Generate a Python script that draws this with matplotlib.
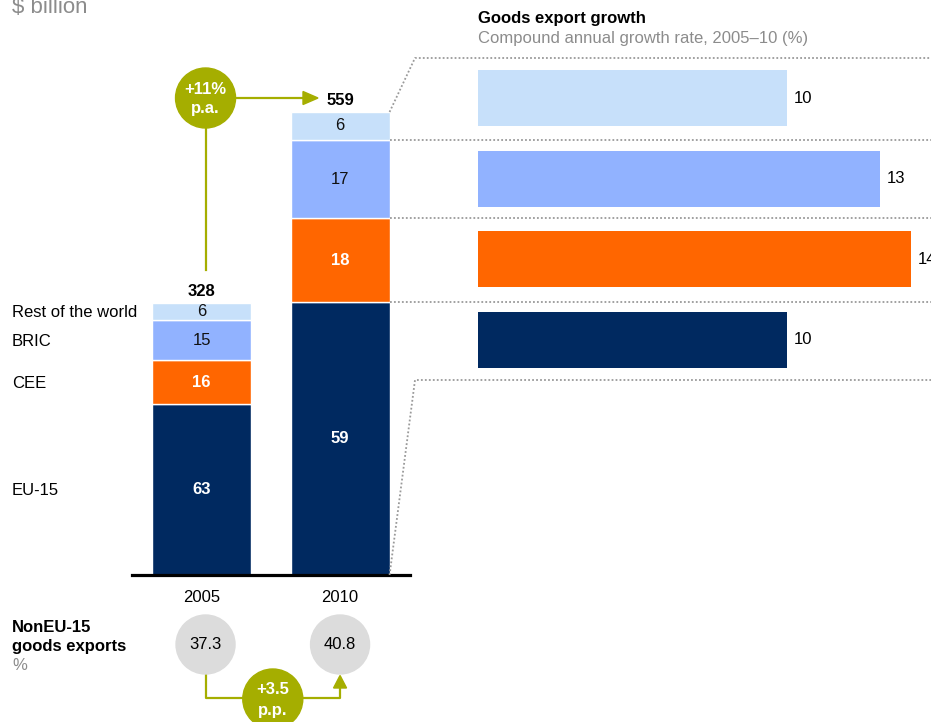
import numpy as np
import matplotlib
matplotlib.use("Agg")
import matplotlib.pyplot as plt
from matplotlib.patches import Circle, Polygon

plt.rcParams["font.family"] = ["Liberation Sans", "DejaVu Sans"]

# ---- data -------------------------------------------------------------
years = ["2005", "2010"]
totals = [328, 559]                       # $ billion
share_eu15 = [63, 59]                     # % of total
share_cee = [16, 18]
share_bric = [15, 17]
share_row = [6, 6]
segment_names = ["EU-15", "CEE", "BRIC", "Rest of the world"]

growth_names = ["Rest of the world", "BRIC", "CEE", "EU-15"]   # top to bottom
growth_cagr = [10, 13, 14, 10]            # CAGR 2005-10, %

non_eu_share = [37.3, 40.8]               # non EU-15 share of goods exports, %
total_cagr_label = "+11%"

# ---- style --------------------------------------------------------------
NAVY = "#002960"
ORANGE = "#FF6600"
PERI = "#91B2FF"
LIGHT = "#C7E0FA"
GREEN = "#A5AE00"
GREY_TXT = "#8C8C8C"
DOT = "#9A9A9A"
DOTSTYLE = (0, (1, 1.2))

W, H = 931, 722
fig = plt.figure(figsize=(W / 100, H / 100), dpi=100)

# ---- stacked bars ---------------------------------------------------------
px_per_unit = 463 / 559
ax = fig.add_axes([132 / W, 1 - 575 / H, 278 / W, 525 / H])
ax.set_xlim(-0.502, 1.505)
ax.set_ylim(0, 525 / px_per_unit)
x = np.arange(len(years))
bar_w = 0.715

seg_shares = [share_eu15, share_cee, share_bric, share_row]
seg_colors = [NAVY, ORANGE, PERI, LIGHT]
seg_txt = [("white", "bold"), ("white", "bold"), ("#111111", "normal"), ("#111111", "normal")]

bottom = np.zeros(len(years))
seg_centers = []
seg_tops = []
for vals, col, (tc, tw) in zip(seg_shares, seg_colors, seg_txt):
    h = np.array(totals) * np.array(vals) / 100.0
    ax.bar(x, h, width=bar_w, bottom=bottom, color=col, edgecolor="white", linewidth=1.0)
    for i in range(len(years)):
        ax.text(x[i], bottom[i] + h[i] / 2, str(vals[i]), ha="center", va="center",
                color=tc, fontsize=12, fontweight=tw)
    seg_centers.append(bottom + h / 2)
    bottom = bottom + h
    seg_tops.append(bottom.copy())

for i in range(len(years)):
    ax.annotate(str(totals[i]), (x[i], totals[i]), xytext=(0, 5), textcoords="offset points",
                ha="center", va="baseline", fontsize=12, fontweight="bold")

ax.set_xticks(x, years)
ax.tick_params(axis="x", length=0, pad=11, labelsize=12)
ax.set_yticks([])
for s in ["top", "left", "right"]:
    ax.spines[s].set_visible(False)
ax.spines["bottom"].set_linewidth(2.3)
ax.spines["bottom"].set_color("black")
ax.patch.set_visible(False)

# ---- growth bars ------------------------------------------------------------
g_left, g_top, g_bot = 477.7, 58, 380
gax = fig.add_axes([g_left / W, 1 - g_bot / H, (W - g_left) / W, (g_bot - g_top) / H])
gax.set_xlim(0, (W - g_left) / 30.95)
gax.set_ylim(len(growth_names) - 0.5, -0.5)
g_colors = [LIGHT, PERI, ORANGE, NAVY]
gy = np.arange(len(growth_names))
gax.barh(gy, growth_cagr, height=0.70, color=g_colors)
for yi, v in zip(gy, growth_cagr):
    gax.annotate(str(v), (v, yi), xytext=(5, 0), textcoords="offset points",
                 ha="left", va="center", fontsize=12, annotation_clip=False)
gax.axis("off")

# ---- overlay in pixel coordinates ---------------------------------------------
ov = fig.add_axes([0, 0, 1, 1])
ov.set_xlim(0, W)
ov.set_ylim(H, 0)
ov.axis("off")


def to_px(xd, yd):
    dx, dy = ax.transData.transform((xd, yd))
    return dx, H - dy


# titles
ov.text(12, 13, "$ billion", fontsize=16, color=GREY_TXT, va="baseline", ha="left")
ov.text(g_left, 18, "Goods export growth", fontsize=12, fontweight="bold", va="center", ha="left")
ov.text(g_left, 38, "Compound annual growth rate, 2005\u201310 (%)", fontsize=12,
        color=GREY_TXT, va="center", ha="left")

# category labels next to the 2005 bar
for name, c in zip(segment_names, seg_centers):
    _, py = to_px(0, c[0])
    ov.text(12, py + 1.5, name, fontsize=12, va="center", ha="left")

# dotted connectors from the 2010 bar to the growth panel
right_edge = x[1] + bar_w / 2
bx, by_top = to_px(right_edge, totals[1])
_, by_bot = to_px(right_edge, 0)
kx = 415
ov.plot([bx, kx, W], [by_top, g_top, g_top], color=DOT, lw=1.3, ls=DOTSTYLE)
ov.plot([bx, kx, W], [by_bot, g_bot, g_bot], color=DOT, lw=1.3, ls=DOTSTYLE)
for tops in seg_tops[:-1]:
    _, py = to_px(right_edge, tops[1])
    ov.plot([bx, W], [py, py], color=DOT, lw=1.3, ls=DOTSTYLE)

# total growth bubble
cx0, _ = to_px(x[0], 0)
cx1, _ = to_px(x[1], 0)
gcx, gcy, r = cx0 + 4, 98, 30
_, y328 = to_px(x[0], totals[0])
ov.plot([gcx, gcx], [gcy, y328 - 33], color=GREEN, lw=1.6)
ov.plot([gcx, 305], [gcy, gcy], color=GREEN, lw=1.6)
ov.add_patch(Polygon([(303, gcy - 6.5), (318, gcy), (303, gcy + 6.5)], closed=True, color=GREEN))
ov.add_patch(Circle((gcx, gcy), r, color=GREEN, zorder=3))
ov.text(gcx, gcy - 9, total_cagr_label, color="white", fontsize=12, fontweight="bold",
        ha="center", va="center", zorder=4)
ov.text(gcx, gcy + 11, "p.a.", color="white", fontsize=12, fontweight="bold",
        ha="center", va="center", zorder=4)

# non EU-15 share bubbles
ov.text(12, 627, "NonEU-15", fontsize=12, fontweight="bold", va="center", ha="left")
ov.text(12, 646, "goods exports", fontsize=12, fontweight="bold", va="center", ha="left")
ov.text(12, 666, "%", fontsize=12, color=GREY_TXT, va="center", ha="left")

sy, sr = 644.5, 29.5
share_cx = [cx0 + 4, cx1]
for scx, v in zip(share_cx, non_eu_share):
    ov.add_patch(Circle((scx, sy), sr, color="#DCDCDC", zorder=2))
    ov.text(scx, sy, f"{v:.1f}", fontsize=12, ha="center", va="center", zorder=3)

ly = 698
ov.plot([share_cx[0], share_cx[0], share_cx[1], share_cx[1]],
        [sy + sr, ly, ly, sy + sr + 13], color=GREEN, lw=1.6, zorder=1)
ov.add_patch(Polygon([(share_cx[1] - 6.5, sy + sr + 14), (share_cx[1], sy + sr + 1.5),
                      (share_cx[1] + 6.5, sy + sr + 14)], closed=True, color=GREEN))
dcx = (share_cx[0] + share_cx[1]) / 2
ov.add_patch(Circle((dcx, 699), 30, color=GREEN, zorder=3))
delta = non_eu_share[1] - non_eu_share[0]
ov.text(dcx, 689, f"+{delta:.1f}", color="white", fontsize=12, fontweight="bold",
        ha="center", va="center", zorder=4)
ov.text(dcx, 711, "p.p.", color="white", fontsize=12, fontweight="bold",
        ha="center", va="center", zorder=4)

fig.savefig("out.png", dpi=100)
